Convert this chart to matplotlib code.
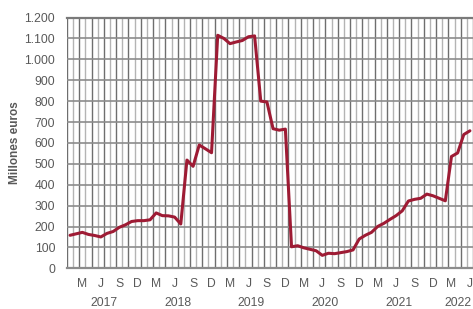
import matplotlib.pyplot as plt
from matplotlib.ticker import FuncFormatter

# monthly values, Jan 2017 .. Jun 2022 (millones de euros)
valores = [158, 165, 172, 162, 157, 150, 167, 176, 196, 208, 224, 228,
           228, 232, 265, 252, 251, 245, 212, 518, 488, 590, 572, 553,
           1115, 1100, 1075, 1083, 1090, 1108, 1112, 800, 796, 668, 661, 666,
           103, 108, 98, 91, 84, 62, 72, 70, 75, 80, 88, 140,
           158, 172, 200, 215, 234, 252, 275, 322, 330, 335, 355, 347,
           335, 323, 535, 552, 640, 658]
meses = ["M", "J", "S", "D"]
anios = ["2017", "2018", "2019", "2020", "2021", "2022"]
anio_pos = [5.5, 17.5, 29.5, 41.5, 53.5, 63]

plt.rcParams['font.family'] = ['Liberation Sans', 'DejaVu Sans']
gris = "#595959"

fig = plt.figure(figsize=(4.73, 3.09), dpi=100)
ax = fig.add_axes([0.1416, 0.1317, 0.8584, 0.8116])

n = len(valores)
x = list(range(n))

# vertical grid at month boundaries, alternating tone
for k in range(n + 1):
    c = "#6e6e6e" if k % 2 == 0 else "#b4b4b4"
    ax.axvline(k - 0.5, color=c, lw=1.0, zorder=1)
for v in range(100, 1200, 100):
    ax.axhline(v, color="#8c8c8c", lw=1.2, zorder=1)

ax.plot(x, valores, color="#9e1b34", lw=2.2, solid_joinstyle="round",
        solid_capstyle="round", zorder=3)

ax.set_xlim(-0.5, n - 0.5)
ax.set_ylim(0, 1200)
ax.set_yticks(range(0, 1201, 100))
ax.yaxis.set_major_formatter(FuncFormatter(lambda v, p: f"{int(v):,}".replace(",", ".")))

tick_x = list(range(2, n, 3))
ax.set_xticks(tick_x)
ax.set_xticklabels([meses[i % 4] for i in range(len(tick_x))])
ax.tick_params(axis="both", length=0, labelsize=8.7, colors=gris)
ax.tick_params(axis="y", pad=8.5)
ax.tick_params(axis="x", pad=7)

for a, p in zip(anios, anio_pos):
    ax.text(p, -166, a, ha="center", va="center", fontsize=8.7,
            color=gris, clip_on=False)

for s in ["left", "right"]:
    ax.spines[s].set_visible(False)
ax.spines["top"].set_color("#7a7a7a")
ax.spines["top"].set_linewidth(1.6)
ax.spines["bottom"].set_color("#8c8c8c")
ax.spines["bottom"].set_linewidth(1.6)

fig.text(0.032, 0.538, "Millones euros", rotation=90, ha="center", va="center",
         fontsize=8.5, fontweight="bold", color=gris)

fig.savefig("out.png", dpi=100)
